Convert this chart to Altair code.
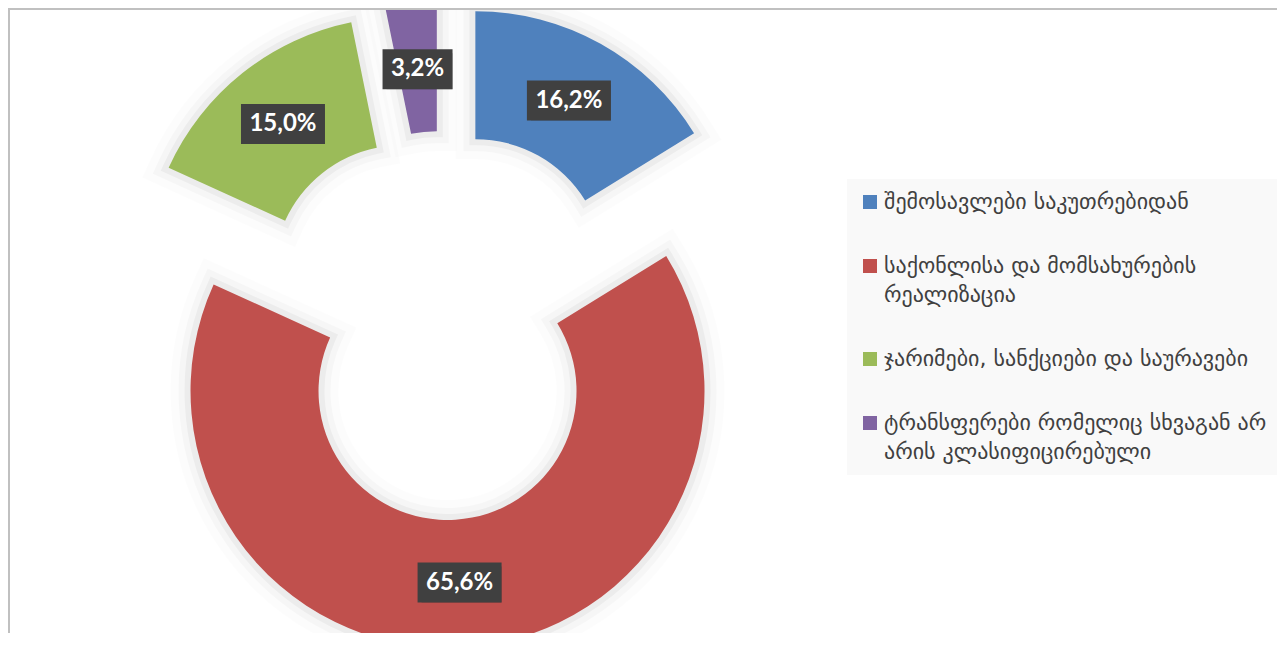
import altair as alt
import pandas as pd

# ---- data ----
categories = [
    "შემოსავლები საკუთრებიდან",
    "საქონლისა და მომსახურების რეალიზაცია",
    "ჯარიმები, სანქციები და საურავები",
    "ტრანსფერები რომელიც სხვაგან არ არის კლასიფიცირებული",
]
shares = [16.2, 65.6, 15.0, 3.2]
value_labels = ["16,2%", "65,6%", "15,0%", "3,2%"]
colors = ["#4f81bd", "#c0504d", "#9bbb59", "#8064a2"]
legend_lines = [
    ["შემოსავლები საკუთრებიდან"],
    ["საქონლისა და მომსახურების", "რეალიზაცია"],
    ["ჯარიმები, სანქციები და საურავები"],
    ["ტრანსფერები რომელიც სხვაგან არ", "არის კლასიფიცირებული"],
]

# ---- layout (styles / geometry) ----
W, H = 1269, 625
CX, CY = 435.4, 317.5      # doughnut centre before explosion
EXPLODE = 65.6             # explosion distance
R_OUT, R_IN = 257, 129
R_LAB = 192

df = pd.DataFrame({
    "category": categories,
    "share": shares,
    "label": value_labels,
    "order": list(range(len(categories))),
})

base = (
    alt.Chart(df)
    .transform_window(cum="sum(share)", sort=[alt.SortField("order")], frame=[None, 0])
    .transform_joinaggregate(total="sum(share)")
    .transform_calculate(
        t0="(datum.cum - datum.share) / datum.total * 2 * PI",
        t1="datum.cum / datum.total * 2 * PI",
    )
    .transform_calculate(tm="(datum.t0 + datum.t1) / 2")
    .transform_calculate(
        cx=f"{CX} + {EXPLODE} * sin(datum.tm)",
        cy=f"{CY} - {EXPLODE} * cos(datum.tm)",
    )
    .transform_calculate(
        lx=f"datum.cx + {R_LAB} * sin(datum.tm)",
        ly=f"datum.cy - {R_LAB} * cos(datum.tm)",
        bw="14 * length(datum.label) + 14",
    )
    .transform_calculate(
        bx0="datum.lx - datum.bw / 2",
        bx1="datum.lx + datum.bw / 2",
        by0="datum.ly - 20",
        by1="datum.ly + 20",
    )
)

arc_enc = dict(
    x=alt.X("cx:Q", scale=None, axis=None),
    y=alt.Y("cy:Q", scale=None, axis=None),
    theta=alt.Theta("t0:Q", scale=None, stack=None),
    theta2="t1:Q",
)


def glow(width, opacity):
    return base.mark_arc(radius=R_OUT, radius2=R_IN, fillOpacity=0, stroke="black",
                         strokeOpacity=opacity, strokeWidth=width,
                         strokeJoin="miter").encode(**arc_enc)


glows = [glow(40, 0.012), glow(24, 0.025), glow(12, 0.04)]

label_expr = "".join(
    f"datum.label == '{c}' ? [" + ", ".join(f"'{l}'" for l in lines) + "] : "
    for c, lines in zip(categories, legend_lines)
) + "datum.label"

arcs = base.mark_arc(radius=R_OUT, radius2=R_IN).encode(
    **arc_enc,
    color=alt.Color(
        "category:N",
        sort=categories,
        scale=alt.Scale(domain=categories, range=colors),
        legend=alt.Legend(
            orient="none",
            legendX=839,
            legendY=171,
            title=None,
            fillColor="#f9f9f9",
            padding=12,
            symbolType="square",
            symbolSize=196,
            symbolStrokeWidth=0,
            labelFont="DejaVu Sans",
            labelFontSize=22,
            labelColor="#404040",
            labelLimit=600,
            labelOffset=3,
            rowPadding=42,
            labelExpr=label_expr,
        ),
    ),
)

box_enc = dict(
    x=alt.X("bx0:Q", scale=None, axis=None),
    x2="bx1:Q",
    y=alt.Y("by0:Q", scale=None, axis=None),
    y2="by1:Q",
)
box_shadow = base.mark_rect(color="black", opacity=0.28, xOffset=4, yOffset=4).encode(**box_enc)
box = base.mark_rect(color="#404040").encode(**box_enc)
text = base.mark_text(color="white", font="Lato", fontWeight="bold", fontSize=24,
                      baseline="middle", align="center").encode(
    x=alt.X("lx:Q", scale=None, axis=None),
    y=alt.Y("ly:Q", scale=None, axis=None),
    text="label:N",
)

one = alt.Chart(pd.DataFrame({"k": [0]}))
top_border = one.mark_rule(color="#c0c0c0", strokeWidth=2).encode(
    x=alt.value(0), x2=alt.value(W), y=alt.value(1))
left_border = one.mark_rule(color="#c0c0c0", strokeWidth=2).encode(
    x=alt.value(1), y=alt.value(0), y2=alt.value(H))

chart = (
    alt.layer(*glows, arcs, box_shadow, box, text, top_border, left_border)
    .properties(width=W, height=H, padding=0, autosize=alt.AutoSizeParams(type="none"))
    .configure_view(stroke=None)
    .configure(style={"guide-label": {"lineHeight": 29}})
)

chart.save("out.html", embed_options={"renderer": "svg", "actions": False})
